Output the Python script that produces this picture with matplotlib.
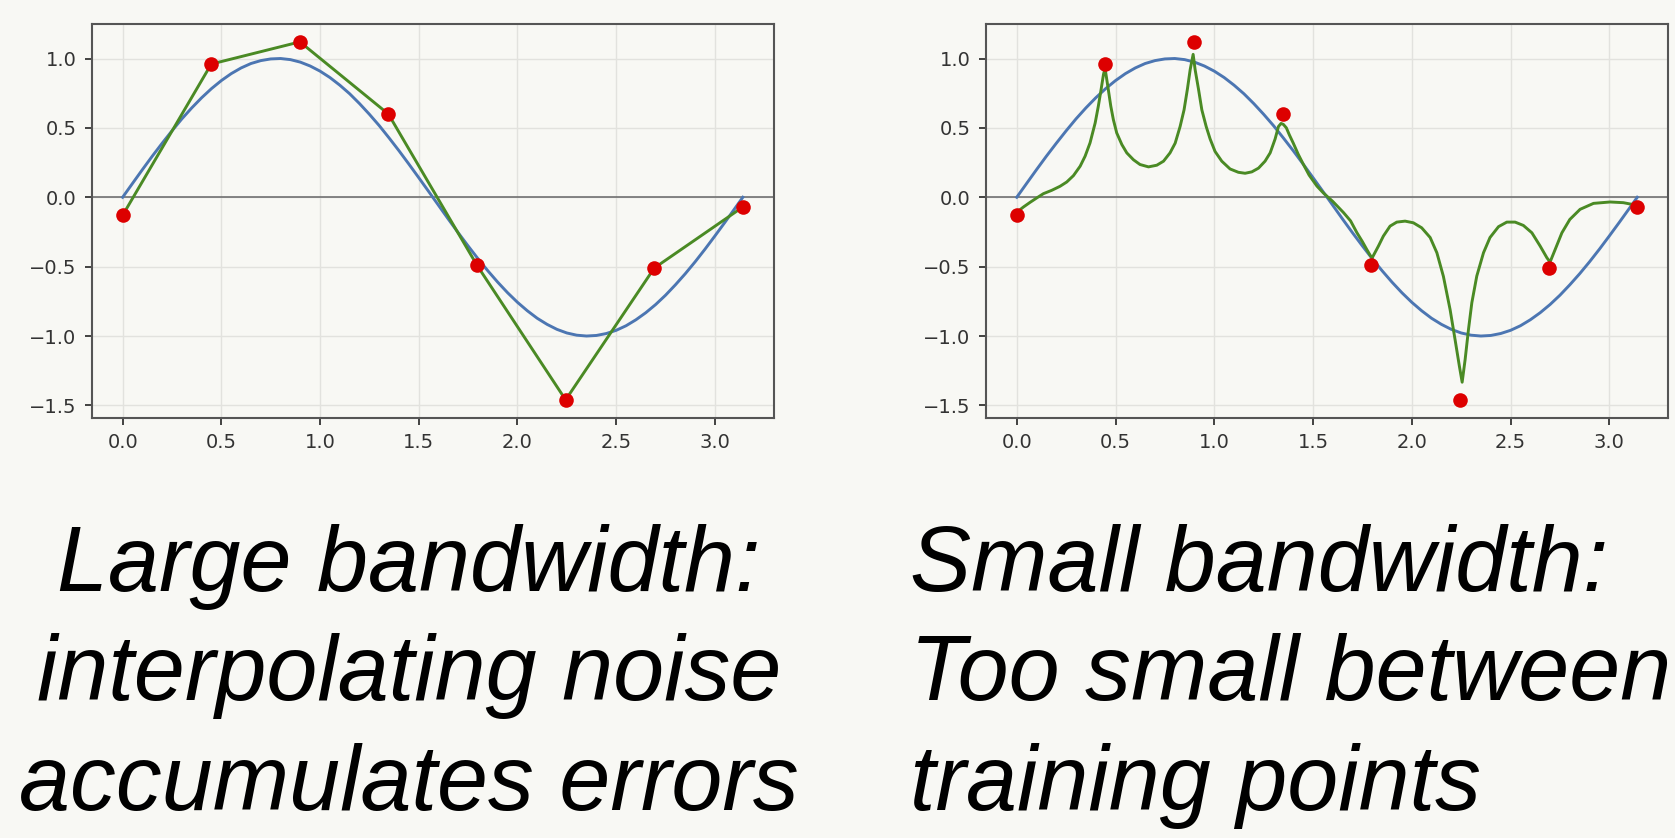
import numpy as np
import matplotlib
matplotlib.use("Agg")
import matplotlib.pyplot as plt

# training points (noisy samples of sin(2x))
x_train = [0.0, 0.449, 0.898, 1.346, 1.795, 2.244, 2.693, 3.1416]
y_train = [-0.13, 0.96, 1.12, 0.60, -0.49, -1.46, -0.51, -0.07]

# true function
x_true = [0.0, 0.05, 0.1, 0.15, 0.2, 0.25, 0.3, 0.35, 0.4, 0.45, 0.5, 0.55,
          0.6, 0.65, 0.7, 0.75, 0.8, 0.85, 0.9, 0.95, 1.0, 1.05, 1.1, 1.15,
          1.2, 1.25, 1.3, 1.35, 1.4, 1.45, 1.5, 1.55, 1.6, 1.65, 1.7, 1.75,
          1.8, 1.85, 1.9, 1.95, 2.0, 2.05, 2.1, 2.15, 2.2, 2.25, 2.3, 2.35,
          2.4, 2.45, 2.5, 2.55, 2.6, 2.65, 2.7, 2.75, 2.8, 2.85, 2.9, 2.95,
          3.0, 3.05, 3.1, 3.1416]
y_true = [0.0, 0.0998, 0.199, 0.296, 0.389, 0.479, 0.565, 0.644, 0.717, 0.783,
          0.841, 0.891, 0.932, 0.964, 0.985, 0.997, 1.0, 0.992, 0.974, 0.946,
          0.909, 0.863, 0.808, 0.746, 0.675, 0.598, 0.516, 0.427, 0.335, 0.239,
          0.141, 0.042, -0.058, -0.158, -0.256, -0.351, -0.443, -0.530, -0.612,
          -0.688, -0.757, -0.818, -0.872, -0.916, -0.952, -0.978, -0.994,
          -1.0, -0.996, -0.982, -0.959, -0.926, -0.883, -0.832, -0.773, -0.706,
          -0.631, -0.551, -0.465, -0.374, -0.279, -0.182, -0.083, 0.0]

x_small = [0.0, 0.034, 0.068, 0.101, 0.135, 0.177, 0.219, 0.253, 0.287, 0.321,
           0.346, 0.371, 0.397, 0.413, 0.427, 0.439, 0.447, 0.461, 0.476,
           0.489, 0.506, 0.532, 0.557, 0.591, 0.624, 0.667, 0.709, 0.743,
           0.776, 0.802, 0.827, 0.847, 0.864, 0.878, 0.893, 0.903, 0.92,
           0.937, 0.959, 0.979, 1.004, 1.038, 1.08, 1.122, 1.156, 1.19, 1.224,
           1.257, 1.283, 1.308, 1.325, 1.338, 1.35, 1.365, 1.38, 1.40, 1.425,
           1.45, 1.48, 1.52, 1.553, 1.60, 1.654, 1.69, 1.722, 1.75, 1.772,
           1.79, 1.80, 1.831, 1.856, 1.89, 1.924, 1.966, 2.008, 2.05, 2.093,
           2.127, 2.16, 2.194, 2.219, 2.241, 2.255, 2.27, 2.287, 2.304, 2.329,
           2.363, 2.396, 2.439, 2.481, 2.523, 2.565, 2.608, 2.65, 2.684, 2.70,
           2.726, 2.76, 2.80, 2.852, 2.92, 3.004, 3.071, 3.122, 3.1416]
y_small = [-0.108, -0.07, -0.036, -0.005, 0.026, 0.05, 0.079, 0.11, 0.156, 0.224,
           0.296, 0.392, 0.536, 0.657, 0.777, 0.885, 0.93, 0.80, 0.657,
           0.56, 0.464, 0.38, 0.32, 0.27, 0.236, 0.219, 0.231, 0.26,
           0.32, 0.39, 0.51, 0.63, 0.78, 0.92, 1.03, 0.92, 0.78,
           0.63, 0.51, 0.42, 0.33, 0.26, 0.204, 0.18, 0.173, 0.183, 0.21,
           0.26, 0.32, 0.42, 0.51, 0.532, 0.525, 0.50, 0.45, 0.39, 0.31,
           0.24, 0.16, 0.08, 0.03, -0.03, -0.11, -0.17, -0.255, -0.32, -0.376,
           -0.42, -0.435, -0.352, -0.28, -0.208, -0.179, -0.172, -0.184, -0.22, -0.29,
           -0.40, -0.57, -0.81, -1.025, -1.218, -1.333, -1.17, -0.953, -0.76, -0.568,
           -0.40, -0.29, -0.212, -0.179, -0.179, -0.203, -0.256, -0.352, -0.436, -0.467,
           -0.376, -0.256, -0.16, -0.087, -0.044, -0.034, -0.039, -0.053, -0.06]

captions = [
    ["Large bandwidth:", "interpolating noise", "accumulates errors"],
    ["Small bandwidth:", "Too small between", "training points"],
]

bg = "#f8f8f4"
fig = plt.figure(figsize=(16.75, 8.38), dpi=100, facecolor=bg)
ax1 = fig.add_axes([0.0547, 0.5015, 0.4073, 0.4699])
ax2 = fig.add_axes([0.5885, 0.5015, 0.4075, 0.4699])

for ax, (gx, gy) in zip([ax1, ax2], [(x_train, y_train), (x_small, y_small)]):
    ax.set_facecolor(bg)
    ax.grid(True, color="#e2e2de", linewidth=1.0)
    ax.set_axisbelow(True)
    ax.axhline(0, color="#666666", linewidth=1.1, zorder=1)
    ax.plot(x_true, y_true, color="#4c76b2", linewidth=2.1, zorder=2)
    ax.plot(gx, gy, color="#4a8a24", linewidth=2.1, zorder=3)
    ax.plot(x_train, y_train, "o", color="#dd0000", markersize=10.5,
            markeredgewidth=0, zorder=4)
    ax.set_xticks([0.0, 0.5, 1.0, 1.5, 2.0, 2.5, 3.0])
    ax.set_yticks([-1.5, -1.0, -0.5, 0.0, 0.5, 1.0])
    ax.tick_params(labelsize=14, colors="#333333", length=5, width=1.3, pad=6)
    for s in ax.spines.values():
        s.set_color("#555555")
        s.set_linewidth(1.5)

baselines = [0.2948, 0.1647, 0.0334]
for line, yb in zip(captions[0], baselines):
    fig.text(0.2442, yb, line, ha="center", va="baseline", fontsize=66,
             style="italic", family="Liberation Sans", color="black")
for line, yb in zip(captions[1], baselines):
    fig.text(0.5435, yb, line, ha="left", va="baseline", fontsize=66,
             style="italic", family="Liberation Sans", color="black")

fig.savefig("out.png", dpi=100, facecolor=bg)
